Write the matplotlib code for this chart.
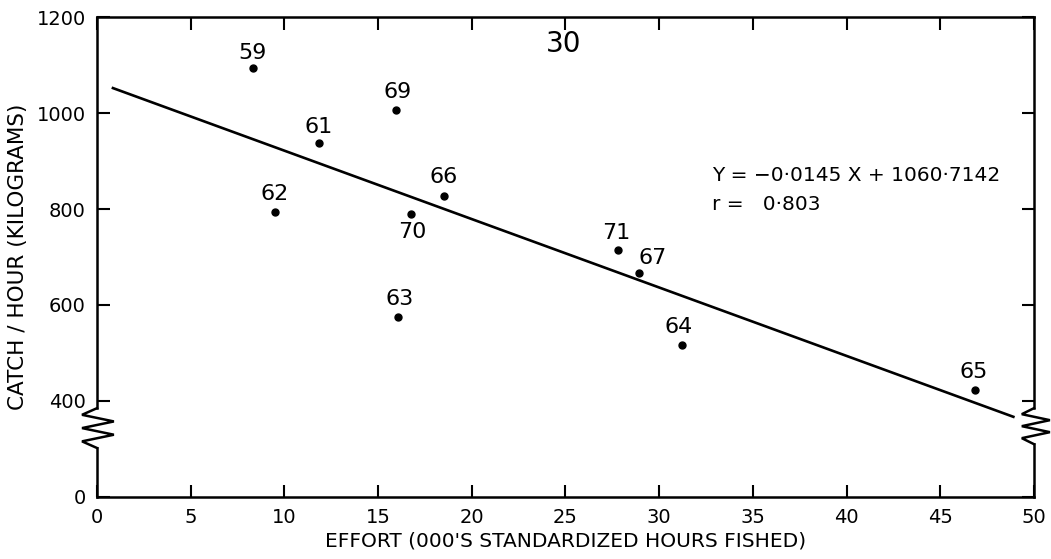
import matplotlib
matplotlib.use("Agg")
import matplotlib.pyplot as plt

# year labels, effort (000's hours) and catch per hour (kg)
years = ["59", "61", "62", "63", "64", "65", "66", "67", "69", "70", "71"]
effort = [8.3, 11.85, 9.5, 16.05, 31.2, 46.85, 18.5, 28.9, 15.95, 16.75, 27.8]
catch = [1094, 937, 794, 575, 517, 423, 827, 667, 1006, 790, 715]

# drawn regression line end points
fit_x = [0.85, 48.9]
fit_y = [1052, 367]

x_ticks = [0, 5, 10, 15, 20, 25, 30, 35, 40, 45, 50]
y_ticks = [200, 400, 600, 800, 1000, 1200]   # 200 stands for the broken-off 0
y_tick_labels = ["0", "400", "600", "800", "1000", "1200"]

equation = "Y = \u22120\u00b70145 X + 1060\u00b77142"
corr = "r =   0\u00b7803"

# label offsets (points) from each dot
label_offsets = {
    "59": (0, 11), "61": (0, 12), "62": (0, 13), "63": (1, 13),
    "64": (-2, 13), "65": (-1, 13), "66": (0, 14), "67": (10, 11),
    "69": (1, 13), "70": (1, -13), "71": (-1, 12),
}


def axis_with_break(ax, xpos, y_lo, y_hi, amp_l, amp_r):
    tr = ax.get_yaxis_transform()
    lw = 1.8
    ax.plot([xpos, xpos], [200, y_lo], color="black", lw=lw, transform=tr, clip_on=False)
    ax.plot([xpos, xpos], [y_hi, 1200], color="black", lw=lw, transform=tr, clip_on=False)
    n = 6
    zx, zy = [], []
    for i in range(n + 1):
        zy.append(y_hi - (y_hi - y_lo) * i / n)
        if i == 0 or i == n:
            zx.append(xpos)
        elif i % 2 == 1:
            zx.append(xpos - amp_l)
        else:
            zx.append(xpos + amp_r)
    ax.plot(zx, zy, color="black", lw=lw, transform=tr, clip_on=False,
            solid_joinstyle="miter")


def main():
    fig = plt.figure(figsize=(10.51, 5.59), dpi=100)
    ax = fig.add_axes([0.0923, 0.111, 0.8915, 0.8585])

    ax.plot(fit_x, fit_y, color="black", lw=1.9)
    ax.plot(effort, catch, "o", color="black", ms=5)

    for lab, xv, yv in zip(years, effort, catch):
        dx, dy = label_offsets[lab]
        ax.annotate(lab, (xv, yv), xytext=(dx, dy), textcoords="offset points",
                    ha="center", va="center", fontsize=16)

    ax.text(24.9, 1144, "30", ha="center", va="center", fontsize=20)
    ax.text(32.8, 869, equation, ha="left", va="center", fontsize=14.5)
    ax.text(32.8, 810, corr, ha="left", va="center", fontsize=14.5)

    ax.set_xlim(0, 50)
    ax.set_ylim(200, 1200)
    ax.set_xticks(x_ticks)
    ax.set_yticks(y_ticks)
    ax.set_yticklabels(y_tick_labels)
    ax.tick_params(direction="in", length=9, width=1.5, labelsize=14,
                   top=True, right=True, pad=8)

    for side in ["top", "bottom"]:
        ax.spines[side].set_linewidth(1.8)
    ax.spines["left"].set_visible(False)
    ax.spines["right"].set_visible(False)

    axis_with_break(ax, 0.0, 302, 385, 0.016, 0.018)
    axis_with_break(ax, 1.0, 310, 385, 0.013, 0.017)

    ax.set_xlabel("EFFORT (000'S STANDARDIZED HOURS FISHED)", fontsize=14.5, labelpad=3)
    ax.set_ylabel("CATCH / HOUR (KILOGRAMS)", fontsize=15.5, labelpad=6)

    fig.savefig("out.png", dpi=100)


if __name__ == "__main__":
    main()
